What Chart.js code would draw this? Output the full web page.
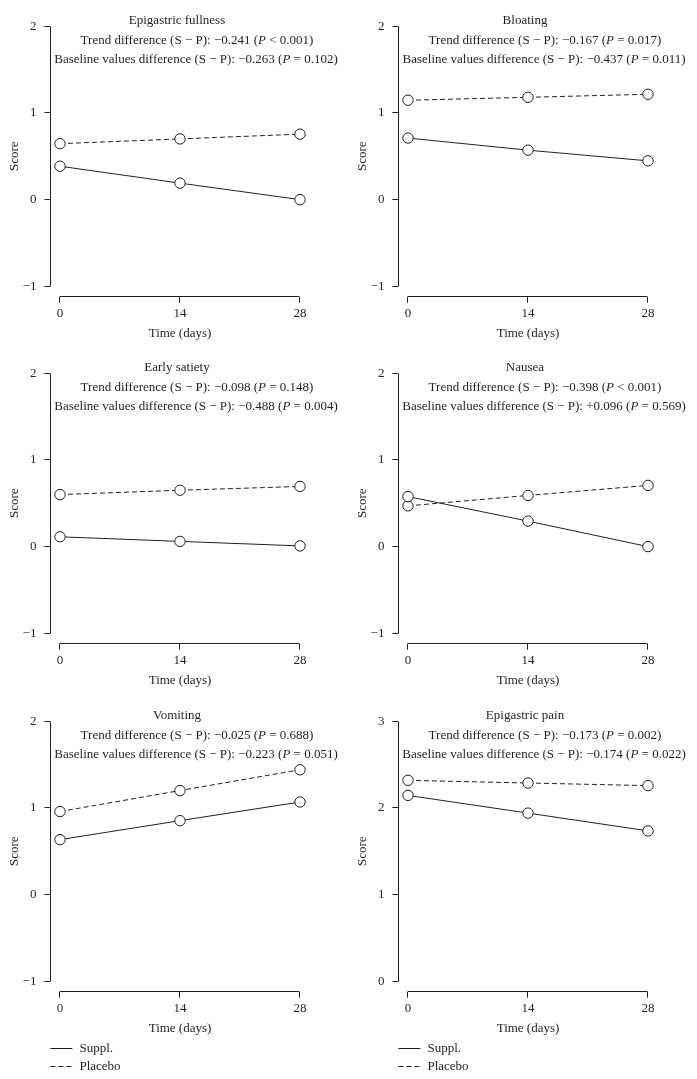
<!DOCTYPE html>
<html>
<head>
<meta charset="utf-8">
<script src="https://cdn.jsdelivr.net/npm/chart.js@4.4.0/dist/chart.umd.min.js"></script>
<style>
  body { margin: 0; background: #fff; }
  #page { position: relative; width: 697px; height: 1079px; overflow: hidden; background: #fff; }
  #page canvas { position: absolute; }
</style>
</head>
<body>
<div id="page"></div>
<script>
// time points (days)
const days = [0, 14, 28];

const titles = ['Epigastric fullness', 'Bloating', 'Early satiety', 'Nausea', 'Vomiting', 'Epigastric pain'];

// mean scores
const fullnessSuppl = [0.385, 0.19, 0.0];
const fullnessPlacebo = [0.645, 0.70, 0.755];
const bloatingSuppl = [0.71, 0.57, 0.447];
const bloatingPlacebo = [1.146, 1.18, 1.215];
const satietySuppl = [0.113, 0.06, 0.008];
const satietyPlacebo = [0.60, 0.65, 0.694];
const nauseaSuppl = [0.577, 0.294, 0.0];
const nauseaPlacebo = [0.47, 0.59, 0.706];
const vomitingSuppl = [0.634, 0.853, 1.068];
const vomitingPlacebo = [0.958, 1.20, 1.44];
const painSuppl = [2.144, 1.94, 1.735];
const painPlacebo = [2.318, 2.287, 2.257];

const supplSeries = [fullnessSuppl, bloatingSuppl, satietySuppl, nauseaSuppl, vomitingSuppl, painSuppl];
const placeboSeries = [fullnessPlacebo, bloatingPlacebo, satietyPlacebo, nauseaPlacebo, vomitingPlacebo, painPlacebo];

// annotation numbers
const trendDiff = ['\u22120.241', '\u22120.167', '\u22120.098', '\u22120.398', '\u22120.025', '\u22120.173'];
const trendP = ['< 0.001', '= 0.017', '= 0.148', '< 0.001', '= 0.688', '= 0.002'];
const baseDiff = ['\u22120.263', '\u22120.437', '\u22120.488', '+0.096', '\u22120.223', '\u22120.174'];
const baseP = ['= 0.102', '= 0.011', '= 0.004', '= 0.569', '= 0.051', '= 0.022'];

// y tick labels
const scoreTicks = [-1, 0, 1, 2];
const painTicks = [0, 1, 2, 3];
const yTickSets = [scoreTicks, scoreTicks, scoreTicks, scoreTicks, scoreTicks, painTicks];

const seriesNames = ['Suppl.', 'Placebo'];

const INK = '#231f20';
const SERIF = '"Liberation Serif", "Times New Roman", serif';
const FS = 13;

// panel geometry
const colLeft = [0, 348];
const rowTop = [0, 347, 695];
const rowHeight = [347, 348, 384];
const PLOT_TOP = 9.4;
const PLOT_H = 287.3;
const X_AXIS_H = 45;
const Y_AXIS_W = 50.4;
const CANVAS_W = 348;

function fmtTick(v) {
  return v < 0 ? '\u2212' + Math.abs(v) : String(v);
}

function drawRich(ctx, parts, cx, cy) {
  let total = 0;
  parts.forEach(p => {
    ctx.font = (p[1] ? 'italic ' : '') + FS + 'px ' + SERIF;
    total += ctx.measureText(p[0]).width;
  });
  let x = cx - total / 2;
  ctx.textAlign = 'left';
  ctx.textBaseline = 'middle';
  parts.forEach(p => {
    ctx.font = (p[1] ? 'italic ' : '') + FS + 'px ' + SERIF;
    ctx.fillText(p[0], x, cy);
    x += ctx.measureText(p[0]).width;
  });
}

const align = v => Math.round(v - 0.5) + 0.5;

// R-style axes, panel title, annotations, legend
const panelDecor = {
  id: 'panelDecor',
  afterDraw(chart, args, opts) {
    const { ctx, chartArea } = chart;
    const x = chart.scales.x;
    const y = chart.scales.y;
    const yt = opts.yTicks;
    const i = opts.index;
    ctx.save();
    ctx.strokeStyle = INK;
    ctx.fillStyle = INK;
    ctx.lineWidth = 1;
    ctx.setLineDash([]);

    // axis lines only between the end ticks
    const ax = align(chartArea.left);
    ctx.beginPath();
    ctx.moveTo(ax, align(y.getPixelForValue(yt[0])));
    ctx.lineTo(ax, align(y.getPixelForValue(yt[yt.length - 1])));
    const ay = align(chartArea.bottom);
    ctx.moveTo(align(x.getPixelForValue(days[0])), ay);
    ctx.lineTo(align(x.getPixelForValue(days[days.length - 1])), ay);
    ctx.stroke();

    // title + annotations
    const mid = x.getPixelForValue(14);
    const top = y.getPixelForValue(yt[yt.length - 1]);
    ctx.font = FS + 'px ' + SERIF;
    ctx.textAlign = 'center';
    ctx.textBaseline = 'middle';
    ctx.fillText(titles[i], mid - 3, top - 6);
    drawRich(ctx, [['Trend difference (S \u2212 P): ' + trendDiff[i] + ' (', false], ['P', true], [' ' + trendP[i] + ')', false]], mid + 17, top + 14);
    drawRich(ctx, [['Baseline values difference (S \u2212 P): ' + baseDiff[i] + ' (', false], ['P', true], [' ' + baseP[i] + ')', false]], mid + 16, top + 33);

    // legend under bottom panels
    if (opts.legend) {
      chart.data.datasets.forEach((ds, k) => {
        const ly = chartArea.bottom + 57 + k * 18;
        ctx.setLineDash(ds.borderDash || []);
        ctx.beginPath();
        ctx.moveTo(chartArea.left, align(ly));
        ctx.lineTo(chartArea.left + 22, align(ly));
        ctx.stroke();
        ctx.setLineDash([]);
        ctx.font = FS + 'px ' + SERIF;
        ctx.textAlign = 'left';
        ctx.textBaseline = 'middle';
        ctx.fillText(ds.label, chartArea.left + 29, ly);
      });
    }
    ctx.restore();
  }
};

const page = document.getElementById('page');

titles.forEach((t, i) => {
  const row = Math.floor(i / 2);
  const col = i % 2;
  const H = rowHeight[row];
  const canvas = document.createElement('canvas');
  canvas.width = CANVAS_W;
  canvas.height = H;
  canvas.style.left = colLeft[col] + 'px';
  canvas.style.top = rowTop[row] + 'px';
  page.appendChild(canvas);

  const yt = yTickSets[i];
  const yPad = (yt[yt.length - 1] - yt[0]) * 0.04;
  const xPad = (days[days.length - 1] - days[0]) * 0.04;

  const lineStyle = (label, values, dash) => ({
    label: label,
    data: days.map((d, j) => ({ x: d, y: values[j] })),
    showLine: true,
    borderColor: INK,
    borderWidth: 1,
    borderDash: dash,
    tension: 0,
    pointRadius: 5.2,
    pointBackgroundColor: '#fff',
    pointBorderColor: INK,
    pointBorderWidth: 1
  });

  const tickFont = { family: SERIF, size: FS };

  new Chart(canvas, {
    type: 'scatter',
    data: {
      datasets: [
        lineStyle(seriesNames[0], supplSeries[i], []),
        lineStyle(seriesNames[1], placeboSeries[i], [5, 3])
      ]
    },
    options: {
      responsive: false,
      animation: false,
      events: [],
      layout: {
        padding: {
          top: PLOT_TOP,
          left: 0,
          right: CANVAS_W - Y_AXIS_W - 259.2,
          bottom: H - PLOT_TOP - PLOT_H - X_AXIS_H
        }
      },
      plugins: {
        legend: { display: false },
        tooltip: { enabled: false },
        panelDecor: { index: i, yTicks: yt, legend: row === 2 }
      },
      scales: {
        x: {
          type: 'linear',
          min: days[0] - xPad,
          max: days[days.length - 1] + xPad,
          afterBuildTicks: s => { s.ticks = days.map(v => ({ value: v })); },
          afterFit: s => { s.height = X_AXIS_H; },
          border: { display: false },
          grid: { display: true, drawOnChartArea: false, drawTicks: true, tickLength: 6, color: INK, lineWidth: 1 },
          ticks: { color: INK, font: tickFont, padding: 3, maxRotation: 0, autoSkip: false },
          title: { display: true, text: 'Time (days)', color: INK, font: tickFont, padding: { top: 0, bottom: 0 } }
        },
        y: {
          type: 'linear',
          min: yt[0] - yPad,
          max: yt[yt.length - 1] + yPad,
          afterBuildTicks: s => { s.ticks = yt.map(v => ({ value: v })); },
          afterFit: s => { s.width = Y_AXIS_W; },
          border: { display: false },
          grid: { display: true, drawOnChartArea: false, drawTicks: true, tickLength: 6, color: INK, lineWidth: 1 },
          ticks: { color: INK, font: tickFont, padding: 8, callback: v => fmtTick(v) },
          title: { display: true, text: 'Score', color: INK, font: tickFont, padding: { top: 7, bottom: 0 } }
        }
      }
    },
    plugins: [panelDecor]
  });
});
</script>
</body>
</html>
